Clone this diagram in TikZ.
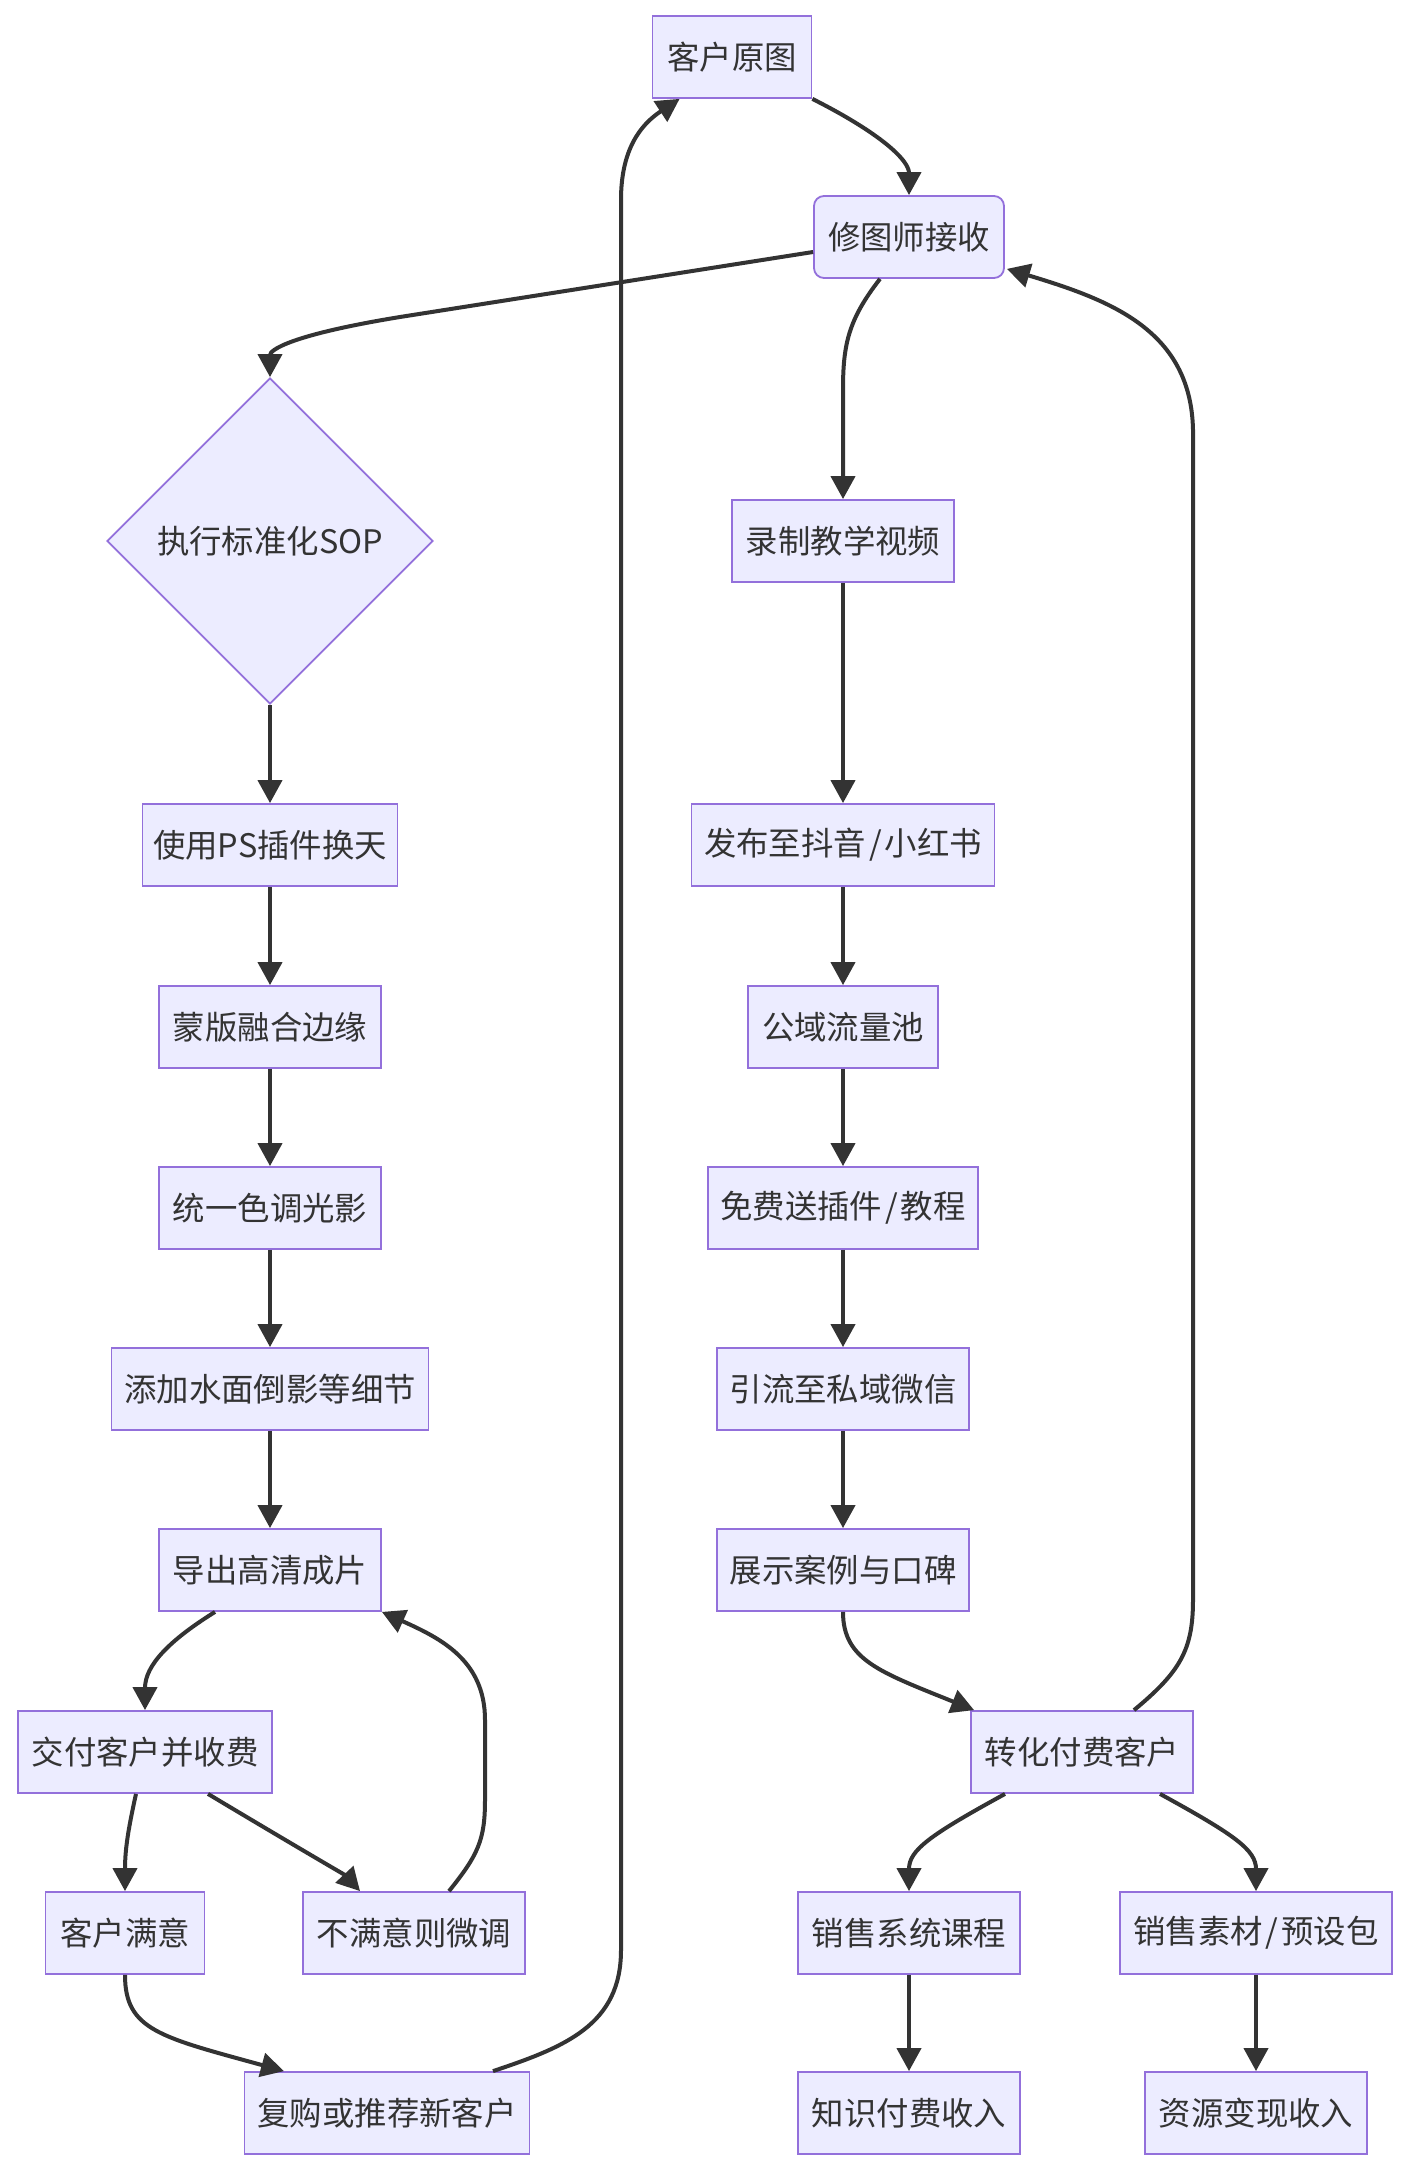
\documentclass[tikz,border=0pt]{standalone}
\usepackage{fontspec}
\setmainfont{Noto Sans CJK SC}
\usetikzlibrary{shapes.geometric,arrows.meta,calc}
\definecolor{nodefill}{HTML}{ECECFF}
\definecolor{nodeline}{HTML}{9370DB}
\definecolor{ink}{HTML}{333333}
\newcommand{\slsh}{\kern1.5pt/\kern1.5pt}
\begin{document}
\begin{tikzpicture}[x=0.5pt,y=-0.5pt,
  box/.style={draw=nodeline, fill=nodefill, line width=0.9pt, minimum height=41pt,
    inner xsep=0pt, inner ysep=0pt, text=ink, font=\fontsize{16.2pt}{19pt}\selectfont},
  bw/.style={minimum width=#1*0.5pt},
  dia/.style={diamond, draw=nodeline, fill=nodefill, line width=0.9pt,
    minimum width=163pt, minimum height=163pt, inner sep=0pt, aspect=1},
  link/.style={draw=ink, line width=2pt, -{Triangle[length=11.5pt,width=12pt]}},
]
\useasboundingbox[fill=white] (0,0) rectangle (1408,2172);

% left / top nodes
\node[box,bw=159] (n1) at (732,57) {客户原图};
\node[box,bw=190,rounded corners=5pt] (n2) at (909,237) {修图师接收};
\node[dia,label={[text=ink,font=\fontsize{16.2pt}{19pt}\selectfont]center:执行标准化SOP}] (n3) at (270,541) {};
\node[box,bw=255] (n4) at (270,845) {使用PS插件换天};
\node[box,bw=222] (n5) at (270,1027) {蒙版融合边缘};
\node[box,bw=222] (n6) at (270,1208) {统一色调光影};
\node[box,bw=317] (n7) at (270,1389) {添加水面倒影等细节};
\node[box,bw=222] (n8) at (270,1570) {导出高清成片};
\node[box,bw=254] (n9) at (145,1752) {交付客户并收费};
\node[box,bw=159] (n10) at (125,1933) {客户满意};
\node[box,bw=222] (n11) at (414,1933) {不满意则微调};
\node[box,bw=285] (n12) at (387,2113) {复购或推荐新客户};

% right nodes
\node[box,bw=222] (r1) at (843,541) {录制教学视频};
\node[box,bw=303] (r2) at (843,845) {发布至抖音\slsh 小红书};
\node[box,bw=190] (r3) at (843,1027) {公域流量池};
\node[box,bw=270] (r4) at (843,1208) {免费送插件\slsh 教程};
\node[box,bw=252] (r5) at (843,1389) {引流至私域微信};
\node[box,bw=252] (r6) at (843,1570) {展示案例与口碑};
\node[box,bw=222] (r7) at (1082,1752) {转化付费客户};
\node[box,bw=222] (r8) at (909,1933) {销售系统课程};
\node[box,bw=272] (r9) at (1256,1933) {销售素材\slsh 预设包};
\node[box,bw=222] (r10) at (909,2113) {知识付费收入};
\node[box,bw=222] (r11) at (1256,2113) {资源变现收入};

% edges
\draw[link] (n1.south east) .. controls (880,133) and (909,160) .. (n2.north);
\draw[link] ($(n2.west)+(0,15)$) -- (400,317) .. controls (290,335) and (270,350) .. (n3.north);
\draw[link] ($(n2.south)+(-29,0)$) .. controls (848,320) and (843,345) .. (843,390) -- (r1.north);

\draw[link] (n3.south) -- (n4.north);
\draw[link] (n4) -- (n5);
\draw[link] (n5) -- (n6);
\draw[link] (n6) -- (n7);
\draw[link] (n7) -- (n8);
\draw[link] ($(n8.south)+(-55,0)$) .. controls (170,1640) and (145,1665) .. (n9.north);
\draw[link] ($(n9.south)+(-9,0)$) .. controls (128,1830) and (125,1850) .. (n10.north);
\draw[link] ($(n9.south)+(63,0)$) .. controls (290,1843) and (345,1875) .. ($(n11.north)+(-54,0)$);
\draw[link] ($(n11.north)+(35,0)$) .. controls (478,1855) and (485,1840) .. (485,1800) -- (485,1720) .. controls (485,1660) and (440,1638) .. (n8.south east);
\draw[link] (n10.south) .. controls (125,2030) and (160,2037) .. ($(n12.north)+(-103,0)$);
\draw[link] ($(n12.north)+(106,0)$) .. controls (565,2047) and (621,2025) .. (621,1950) -- (621,200) .. controls (621,150) and (640,125) .. ($(n1.south west)+(28,0)$);

\draw[link] (r1) -- (r2);
\draw[link] (r2) -- (r3);
\draw[link] (r3) -- (r4);
\draw[link] (r4) -- (r5);
\draw[link] (r5) -- (r6);
\draw[link] (r6.south) .. controls (843,1660) and (880,1672) .. ($(r7.north west)+(4,0)$);
\draw[link] ($(r7.north)+(52,0)$) .. controls (1180,1672) and (1193,1650) .. (1193,1600) -- (1193,430) .. controls (1191,330) and (1110,300) .. ($(n2.south east)+(2,-10)$);
\draw[link] ($(r7.south)+(-77,0)$) .. controls (930,1835) and (909,1850) .. (r8.north);
\draw[link] ($(r7.south)+(78,0)$) .. controls (1235,1835) and (1256,1850) .. (r9.north);
\draw[link] (r8) -- (r10);
\draw[link] (r9) -- (r11);
\end{tikzpicture}
\end{document}
